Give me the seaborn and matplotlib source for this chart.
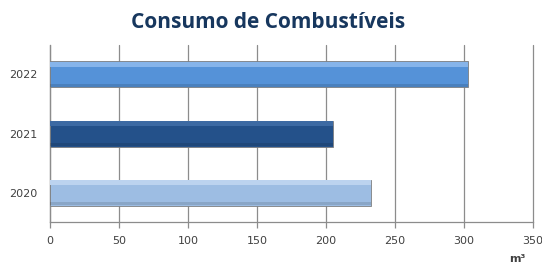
import matplotlib
matplotlib.use("Agg")
import matplotlib.pyplot as plt
import seaborn as sns
import pandas as pd

# dados
anos = ["2022", "2021", "2020"]
consumo = [303, 205, 233]
cores = ["#5592d8", "#24518a", "#9dbde3"]
destaque = ["#86b4ea", "#3d6aa3", "#bcd3ef"]
ticks_x = [0, 50, 100, 150, 200, 250, 300, 350]

df = pd.DataFrame({"ano": anos, "consumo": consumo})

sns.set_style("white")
plt.rcParams["font.family"] = ["DejaVu Sans"]

fig, ax = plt.subplots(figsize=(5.42, 2.66), dpi=100)
fig.subplots_adjust(left=0.092, right=0.983, top=0.831, bottom=0.165)

# grelha vertical por trás das barras
for t in ticks_x:
    ax.axvline(t, color="#8c8c8c", lw=0.9, zorder=0, clip_on=False)

sns.barplot(data=df, y="ano", x="consumo", hue="ano", order=anos,
            hue_order=anos, palette=cores, orient="h", width=0.44,
            legend=False, ax=ax, zorder=3, linewidth=0.6,
            edgecolor="#7f7f7f", saturation=1)

# brilho na parte superior das barras (efeito 3D)
for i, (v, c) in enumerate(zip(consumo, destaque)):
    ax.barh(i - 0.17, v, height=0.07, color=c, zorder=4, linewidth=0)
    ax.barh(i + 0.19, v, height=0.05, color="black", alpha=0.12, zorder=4, linewidth=0)

ax.set_xlim(0, 350)
ax.set_ylim(2.5, -0.5)
ax.set_xticks(ticks_x)
ax.set_xticklabels([str(t) for t in ticks_x], fontsize=8, color="#404040")
ax.set_yticks(range(len(anos)))
ax.set_yticklabels(anos, fontsize=8, color="#404040")
ax.set_yticks([-0.5, 0.5, 1.5, 2.5], minor=True)
ax.tick_params(axis="y", which="major", length=0, pad=9)
ax.tick_params(axis="y", which="minor", length=4, color="#8c8c8c", width=0.9)
ax.tick_params(axis="x", which="major", length=4, color="#8c8c8c", width=0.9,
               pad=6, direction="out", bottom=True)
ax.set_xlabel("")
ax.set_ylabel("")

for lado in ["top", "right"]:
    ax.spines[lado].set_visible(False)
for lado in ["left", "bottom"]:
    ax.spines[lado].set_color("#8c8c8c")
    ax.spines[lado].set_linewidth(0.9)

fig.suptitle("Consumo de Combustíveis", x=0.495, y=0.955, fontsize=15,
             fontweight="bold", color="#17375e", family=["Open Sans", "DejaVu Sans"])
fig.text(0.94, 0.015, "m³", fontsize=8, fontweight="bold", color="#404040")

fig.savefig("out.png", dpi=100)
